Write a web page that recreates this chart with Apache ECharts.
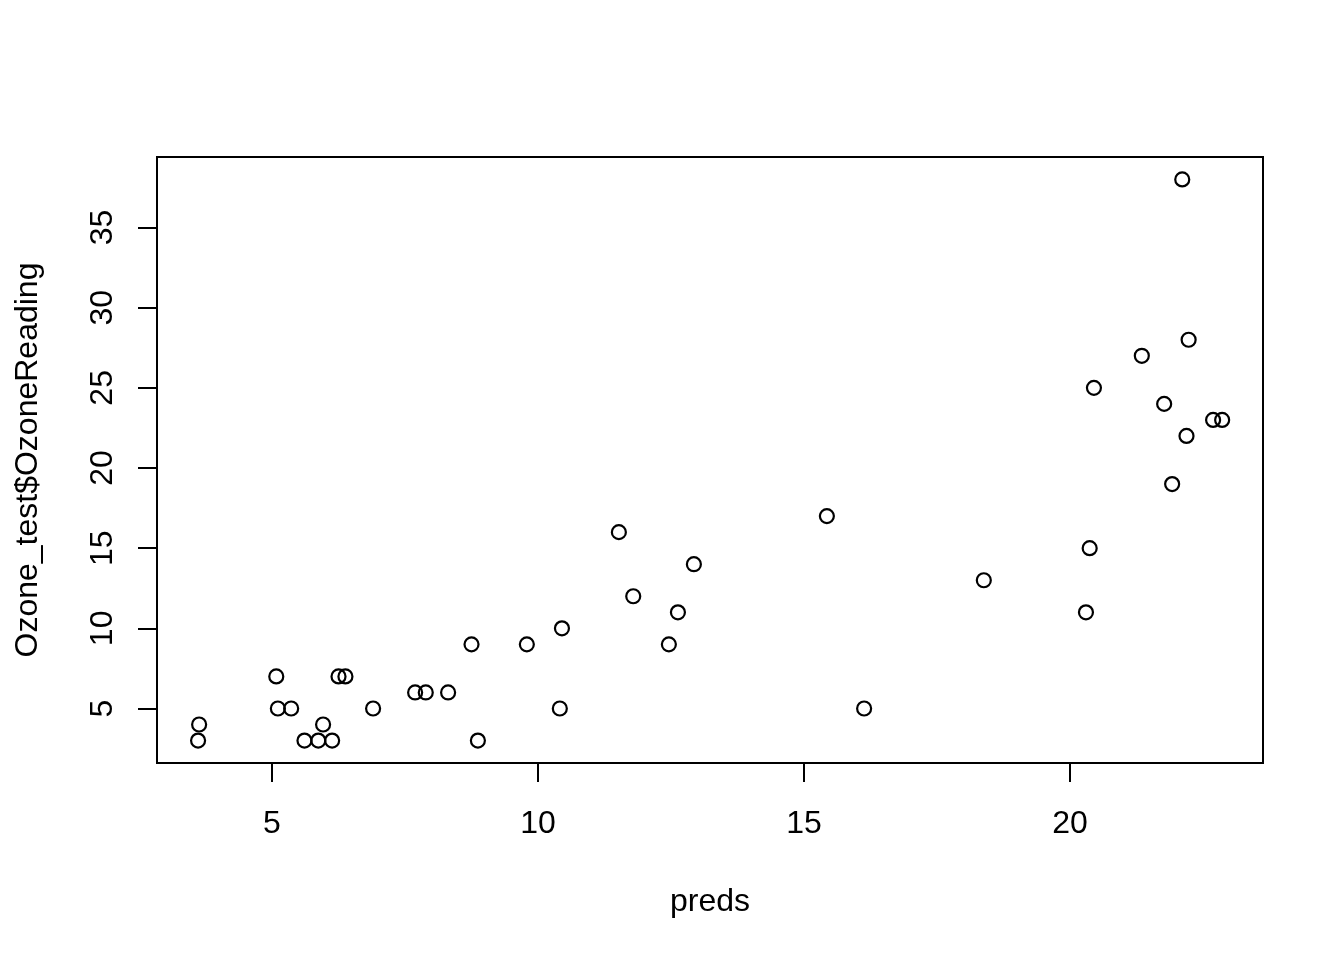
<!DOCTYPE html>
<html>
<head>
<meta charset="utf-8">
<script src="https://cdn.jsdelivr.net/npm/echarts@6/dist/echarts.min.js"></script>
<style>html,body{margin:0;padding:0;background:#fff;}#c{width:1344px;height:960px;}</style>
</head>
<body>
<div id="c"></div>
<script>
var preds = [3.61, 3.63, 5.08, 5.11, 5.36, 5.61, 5.87, 5.96, 6.13, 6.25, 6.38, 6.90, 7.69, 7.89, 8.31, 8.75, 8.87, 9.79, 10.41, 10.45, 11.52, 11.79, 12.46, 12.63, 12.93, 15.43, 16.13, 18.38, 20.30, 20.37, 20.45, 21.35, 21.77, 21.92, 22.11, 22.19, 22.23, 22.69, 22.86];
var ozone = [3, 4, 7, 5, 5, 3, 3, 4, 3, 7, 7, 5, 6, 6, 6, 9, 3, 9, 5, 10, 16, 12, 9, 11, 14, 17, 5, 13, 11, 15, 25, 27, 24, 19, 38, 22, 28, 23, 23];
var xTicks = [5, 10, 15, 20];
var yTicks = [5, 10, 15, 20, 25, 30, 35];

var pts = preds.map(function (p, i) { return [p, ozone[i]]; });
var font = 'Liberation Sans, Arial, Helvetica, sans-serif';
var chart = echarts.init(document.getElementById('c'), null, {renderer: 'canvas'});
chart.setOption({
  animation: false,
  backgroundColor: '#ffffff',
  grid: {left: 157, right: 81, top: 157, bottom: 197, show: true, borderColor: '#000', borderWidth: 2, backgroundColor: 'transparent'},
  xAxis: {
    type: 'value', min: 2.838, max: 23.628,
    name: 'preds', nameLocation: 'middle', nameGap: 123,
    nameTextStyle: {fontFamily: font, fontSize: 32, color: '#000'},
    axisLine: {show: false},
    splitLine: {show: false},
    axisTick: {show: true, length: 19, customValues: xTicks, lineStyle: {color: '#000', width: 2}},
    axisLabel: {customValues: xTicks, margin: 45, fontFamily: font, fontSize: 32, color: '#000'}
  },
  yAxis: {
    type: 'value', min: 1.6, max: 39.4,
    name: 'Ozone_test$OzoneReading', nameLocation: 'middle', nameGap: 113, nameRotate: 90,
    nameTextStyle: {fontFamily: font, fontSize: 32, color: '#000'},
    axisLine: {show: false},
    splitLine: {show: false},
    axisTick: {show: true, length: 19, customValues: yTicks, lineStyle: {color: '#000', width: 2}},
    axisLabel: {customValues: yTicks, rotate: 90, margin: 38, fontFamily: font, fontSize: 32, color: '#000'}
  },
  series: [{
    type: 'scatter', data: pts, symbol: 'circle', symbolSize: 14,
    itemStyle: {color: 'rgba(0,0,0,0)', borderColor: '#000', borderWidth: 2.2, opacity: 1},
    emphasis: {disabled: true}
  }]
});
</script>
</body>
</html>
